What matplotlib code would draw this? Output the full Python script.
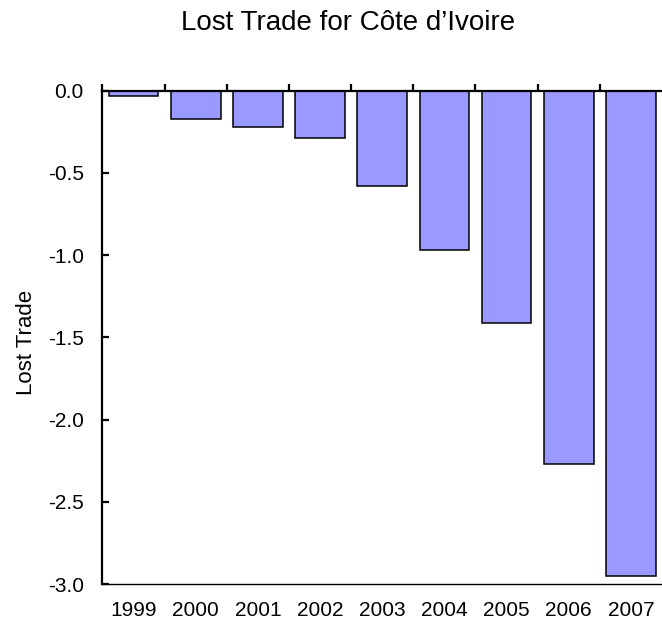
import matplotlib
matplotlib.use("Agg")
import matplotlib.pyplot as plt
import numpy as np

years = ["1999", "2000", "2001", "2002", "2003", "2004", "2005", "2006", "2007"]
lost_trade = [-0.03, -0.17, -0.22, -0.29, -0.58, -0.97, -1.41, -2.27, -2.95]
y_ticks = [0.0, -0.5, -1.0, -1.5, -2.0, -2.5, -3.0]

plt.rcParams['font.family'] = ['Liberation Sans', 'DejaVu Sans']

fig = plt.figure(figsize=(6.62, 6.31), dpi=100)
W, H = 662, 631
ax = fig.add_axes([102.5 / W, 1 - 584 / H, (662 - 102.5) / W, (584 - 90.7) / H])

x = np.arange(len(years))
ax.bar(x, lost_trade, width=0.8, color='#9999ff', edgecolor='black', linewidth=1.1, zorder=2)

ax.set_xlim(-0.5, len(years) - 0.5)
ax.set_ylim(-3.0, 0.0)
ax.set_yticks(y_ticks)
ax.set_yticklabels([f"{v:.1f}" for v in y_ticks])
ax.set_xticks(x)
ax.set_xticklabels(years)
ax.set_xticks(np.arange(-0.5, len(years) - 0.5, 1.0), minor=True)

ax.spines['right'].set_visible(False)
ax.spines['top'].set_linewidth(1.6)
ax.spines['top'].set_zorder(3)
ax.spines['left'].set_linewidth(1.6)
ax.spines['bottom'].set_linewidth(1.0)

ax.tick_params(axis='x', which='major', length=0, pad=12.5, labelsize=15)
ax.tick_params(axis='x', which='minor', top=True, bottom=False, direction='out', length=5, width=1.6)
ax.tick_params(axis='y', which='major', direction='in', length=5, width=1.6, pad=13.5, labelsize=15)

ax.set_ylabel("Lost Trade", fontsize=16)
ax.yaxis.set_label_coords(-(102.5 - 37) / (662 - 102.5), 1 - (342 - 90.7) / (584 - 90.7))

fig.text(348 / W, 1 - 30 / H, "Lost Trade for Côte d\u2019Ivoire", fontsize=20,
         ha='center', va='baseline')

fig.savefig("out.png", dpi=100)
